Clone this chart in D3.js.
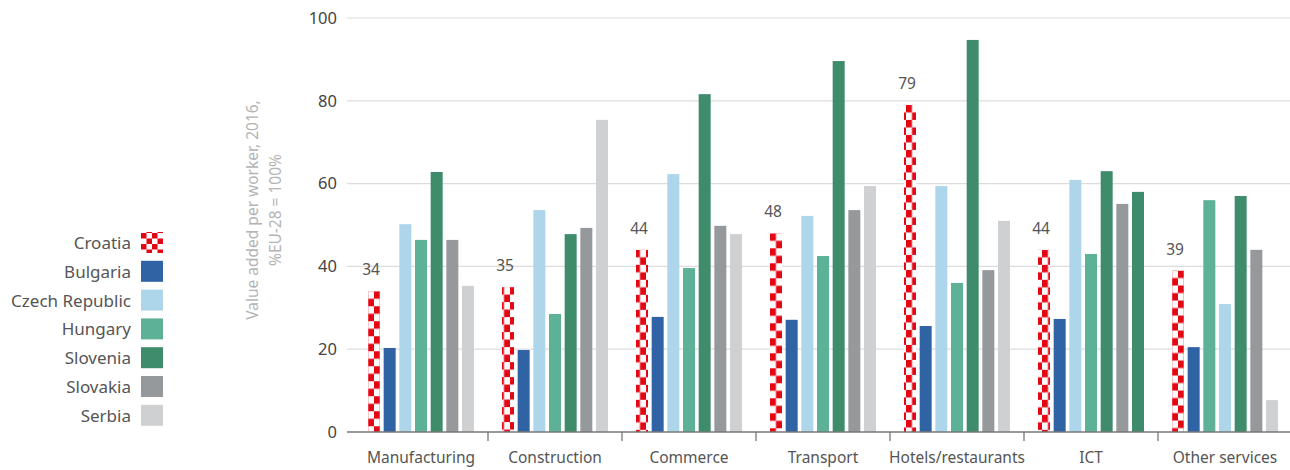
<!DOCTYPE html>
<html>
<head>
<meta charset="utf-8">
<script src="https://cdn.jsdelivr.net/npm/d3@7"></script>
<style>
  html, body { margin: 0; padding: 0; background: #fff; }
  svg { display: block; font-family: "Noto Sans", "Open Sans", sans-serif; }
</style>
</head>
<body>
<svg id="chart" width="1290" height="470"></svg>
<script>
// Sectors along the x axis
const categories = ["Manufacturing", "Construction", "Commerce", "Transport", "Hotels/restaurants", "ICT", "Other services"];

// Countries (series), in legend order
const seriesNames = ["Croatia", "Bulgaria", "Czech Republic", "Hungary", "Slovenia", "Slovakia", "Serbia"];

// Value added per worker, 2016, % of EU-28, one value per sector
const croatia      = [34, 35, 44, 48, 79, 44, 39];
const bulgaria     = [20.3, 19.8, 27.8, 27.1, 25.6, 27.3, 20.5];
const czechRepublic= [50.2, 53.6, 62.3, 52.2, 59.4, 60.9, 30.9];
const hungary      = [46.4, 28.5, 39.6, 42.5, 36.0, 43.0, 56.0];
const slovenia     = [62.8, 47.8, 81.6, 89.6, 94.7, 63.0, 57.0];
const slovakia     = [46.4, 49.3, 49.8, 53.6, 39.1, 55.1, 44.0];
const serbia       = [35.3, 75.4, 47.8, 59.4, 51.0, 58.0, 7.7];

const seriesValues = {
  "Croatia": croatia, "Bulgaria": bulgaria, "Czech Republic": czechRepublic,
  "Hungary": hungary, "Slovenia": slovenia, "Slovakia": slovakia, "Serbia": serbia
};

// Bar order within each sector group
const otherServicesOrder = ["Croatia", "Bulgaria", "Hungary", "Czech Republic", "Slovenia", "Slovakia", "Serbia"];
const slotOrders = categories.map(c => c === "Other services" ? otherServicesOrder : seriesNames);

// Fill colour used for one bar that is drawn with another country's colour
const fillOverrides = [{ category: "ICT", series: "Serbia", as: "Slovenia" }];

const yTicks = [0, 20, 40, 60, 80, 100];
const labelledSeries = "Croatia";

const colors = {
  "Croatia": "#e30613",
  "Bulgaria": "#3063a3",
  "Czech Republic": "#aed6ea",
  "Hungary": "#5cb196",
  "Slovenia": "#3f8c6c",
  "Slovakia": "#96999c",
  "Serbia": "#cfd0d2"
};

const svg = d3.select("#chart");
const defs = svg.append("defs");

const x = d3.scaleBand().domain(categories).range([354, 1292]).padding(0);
const inner = d3.scaleBand().domain(d3.range(7)).range([14, 120]).paddingInner(0.234).paddingOuter(0);
const y = d3.scaleLinear().domain([0, 100]).range([432, 18]);

// Gridlines
svg.append("g").selectAll("line").data(yTicks.filter(d => d > 0)).join("line")
  .attr("x1", 347).attr("x2", 1290)
  .attr("y1", d => y(d)).attr("y2", d => y(d))
  .attr("stroke", "#dcdcdc").attr("stroke-width", 1.2);

// Y axis tick labels
const yAxis = d3.axisLeft(y).tickValues(yTicks).tickSize(0).tickPadding(0);
const gy = svg.append("g").attr("transform", "translate(337,0)").call(yAxis);
gy.select(".domain").remove();
gy.selectAll("text").attr("font-size", 16.5).attr("fill", "#444")
  .attr("font-family", "'Noto Sans', sans-serif");

// Y axis title
const title = svg.append("text")
  .attr("transform", "rotate(-90)")
  .attr("text-anchor", "middle")
  .attr("font-size", 15.5).attr("fill", "#b4b4b4");
title.append("tspan").attr("x", -210).attr("y", 258).text("Value added per worker, 2016,");
title.append("tspan").attr("x", -210).attr("y", 281).text("%EU-28 = 100%");

// Checkerboard fill for Croatia
function checkerPattern(id, px, py, w, h) {
  const p = defs.append("pattern").attr("id", id)
    .attr("patternUnits", "userSpaceOnUse")
    .attr("x", px).attr("y", py).attr("width", 2 * w).attr("height", 2 * h);
  p.append("rect").attr("width", 2 * w).attr("height", 2 * h).attr("fill", "#fff");
  p.append("rect").attr("x", 0).attr("y", 0).attr("width", w).attr("height", h).attr("fill", colors["Croatia"]);
  p.append("rect").attr("x", w).attr("y", h).attr("width", w).attr("height", h).attr("fill", colors["Croatia"]);
  return `url(#${id})`;
}

// Bars
const groups = svg.append("g").selectAll("g").data(categories).join("g")
  .attr("transform", d => `translate(${x(d)},0)`);

groups.each(function (cat, ci) {
  const g = d3.select(this);
  const bars = slotOrders[ci].map((s, slot) => {
    const ov = fillOverrides.find(o => o.category === cat && o.series === s);
    return { series: s, slot, value: seriesValues[s][ci], colorKey: ov ? ov.as : s };
  });
  bars.forEach(b => {
    const bx = inner(b.slot), by = y(b.value), bw = inner.bandwidth(), bh = y(0) - y(b.value);
    let fill = colors[b.colorKey];
    if (b.series === "Croatia") {
      fill = checkerPattern(`checker-${ci}`, x(cat) + bx, by, bw / 2, 7.5);
    }
    g.append("rect").attr("x", bx).attr("y", by).attr("width", bw).attr("height", bh).attr("fill", fill);
    if (b.series === labelledSeries) {
      g.append("text").attr("x", bx + bw / 2 - 3).attr("y", by - 16)
        .attr("text-anchor", "middle").attr("font-size", 15.5).attr("fill", "#555")
        .text(d3.format("d")(b.value));
    }
  });
});

// X axis baseline and separators
svg.append("line").attr("x1", 347).attr("x2", 1290).attr("y1", y(0)).attr("y2", y(0))
  .attr("stroke", "#777").attr("stroke-width", 1.3);
svg.append("g").selectAll("line").data(categories.slice(1)).join("line")
  .attr("x1", d => x(d)).attr("x2", d => x(d))
  .attr("y1", y(0)).attr("y2", y(0) + 9)
  .attr("stroke", "#777").attr("stroke-width", 1.3);

svg.append("g").selectAll("text").data(categories).join("text")
  .attr("x", d => x(d) + x.bandwidth() / 2).attr("y", 463)
  .attr("text-anchor", "middle").attr("font-size", 15.5).attr("fill", "#555")
  .text(d => d);

// Legend
const legend = svg.append("g").selectAll("g").data(seriesNames).join("g")
  .attr("transform", (d, i) => `translate(0,${243 + i * 28.8})`);
legend.append("text").attr("x", 131).attr("y", 0).attr("dy", "0.35em")
  .attr("text-anchor", "end").attr("font-size", 17).attr("fill", "#555").text(d => d);
const legendChecker = defs.append("pattern").attr("id", "legend-checker")
  .attr("patternUnits", "userSpaceOnUse").attr("x", 141).attr("y", 232)
  .attr("width", 11).attr("height", 11);
legendChecker.append("rect").attr("width", 11).attr("height", 11).attr("fill", "#fff");
legendChecker.append("rect").attr("width", 5.5).attr("height", 5.5).attr("fill", colors["Croatia"]);
legendChecker.append("rect").attr("x", 5.5).attr("y", 5.5).attr("width", 5.5).attr("height", 5.5).attr("fill", colors["Croatia"]);
legend.append("rect").attr("x", 141).attr("y", -11).attr("width", 22).attr("height", 21)
  .attr("fill", d => d === "Croatia" ? "url(#legend-checker)" : colors[d]);
</script>
</body>
</html>
